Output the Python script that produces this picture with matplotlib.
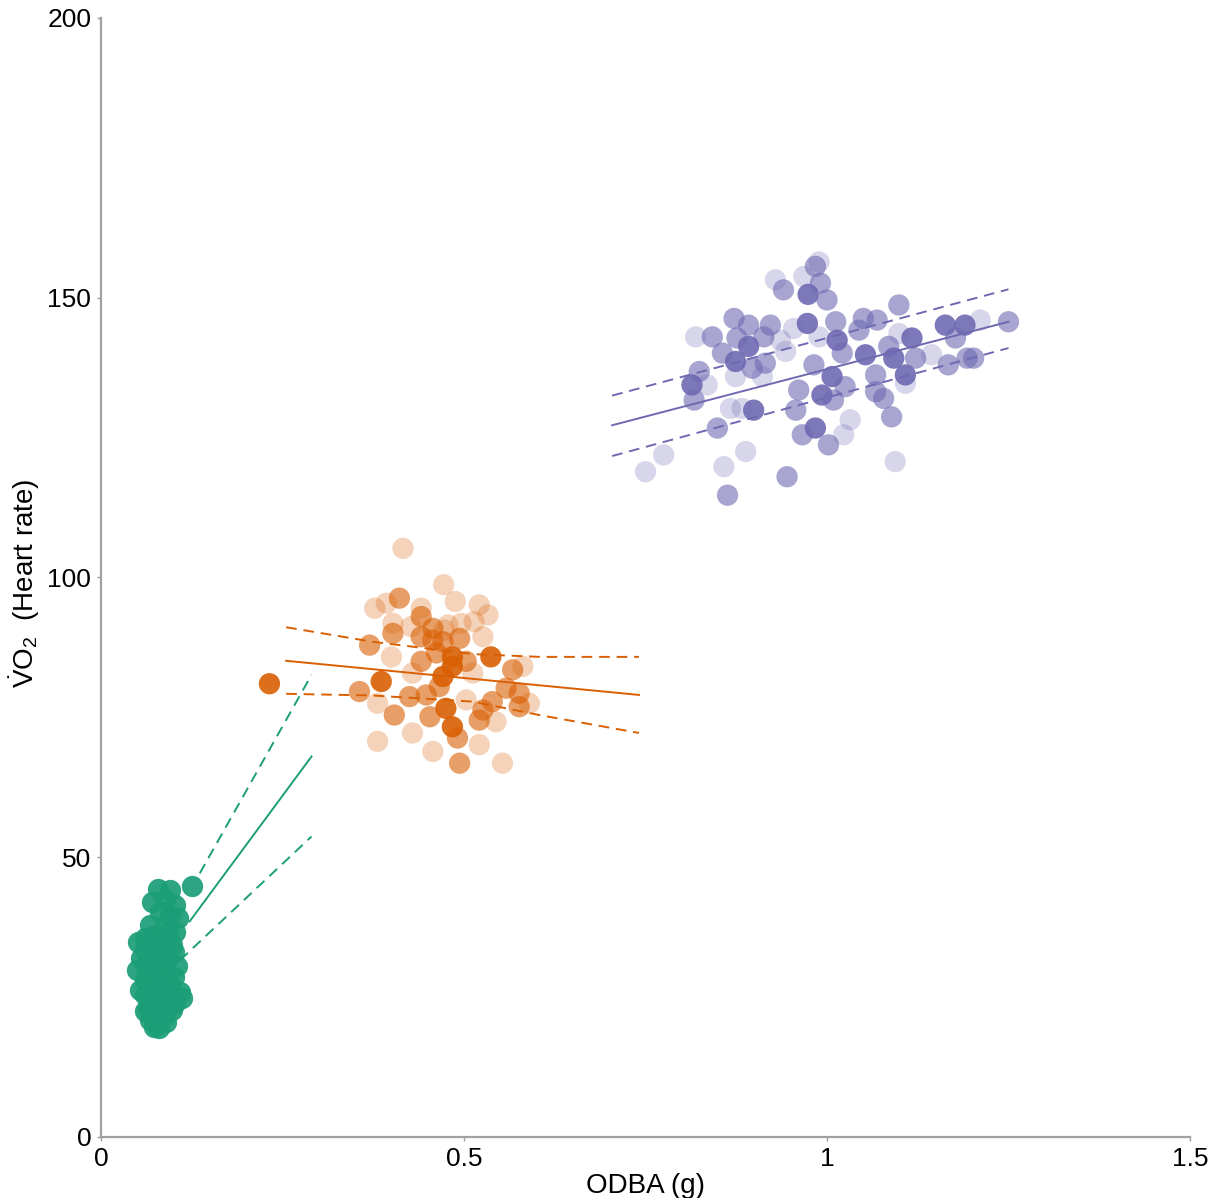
import matplotlib.pyplot as plt
from matplotlib.colors import to_rgba

# --- data ------------------------------------------------------------------
green_x = [0.078, 0.095, 0.125, 0.088, 0.102, 0.081, 0.106, 0.067, 0.088, 0.102,
           0.060, 0.081, 0.098, 0.060, 0.078, 0.092, 0.060, 0.074, 0.088, 0.060,
           0.078, 0.095, 0.109, 0.111, 0.060, 0.078, 0.095, 0.065, 0.081, 0.098,
           0.067, 0.078, 0.088, 0.051, 0.049, 0.054, 0.070, 0.095, 0.074, 0.092,
           0.070, 0.085, 0.068, 0.085, 0.100, 0.070, 0.088, 0.102, 0.072, 0.090,
           0.060, 0.080, 0.065, 0.055, 0.104, 0.100, 0.073]
green_y = [44.3, 44.1, 44.9, 42.4, 41.5, 40.2, 39.1, 37.9, 37.9, 36.6,
           35.6, 35.2, 34.3, 33.4, 32.5, 32.0, 30.7, 30.2, 29.8, 28.1,
           27.7, 27.2, 25.9, 24.8, 25.4, 24.8, 23.9, 23.1, 22.3, 22.7,
           20.9, 21.3, 21.8, 34.9, 29.8, 26.3, 42.0, 39.5, 36.0, 36.5,
           33.0, 33.5, 28.5, 27.0, 28.5, 25.5, 25.0, 24.0, 23.0, 20.5,
           22.5, 19.5, 31.5, 32.0, 30.5, 33.0, 19.6]

orange_x = [0.416, 0.472, 0.488, 0.377, 0.393, 0.411, 0.441, 0.441, 0.521, 0.533,
            0.402, 0.402, 0.427, 0.478, 0.496, 0.457, 0.471, 0.494, 0.526, 0.370,
            0.441, 0.400, 0.441, 0.462, 0.484, 0.503, 0.537, 0.581, 0.567, 0.429,
            0.471, 0.484, 0.512, 0.386, 0.356, 0.232, 0.466, 0.558, 0.576, 0.381,
            0.425, 0.448, 0.475, 0.503, 0.526, 0.539, 0.576, 0.590, 0.404, 0.453,
            0.484, 0.521, 0.544, 0.381, 0.429, 0.457, 0.491, 0.521, 0.494, 0.553,
            0.457, 0.473, 0.514]
orange_y = [105.2, 98.7, 95.7, 94.5, 95.4, 96.3, 94.5, 93.0, 95.1, 93.3,
            91.8, 90.0, 91.2, 91.5, 91.8, 88.8, 88.5, 89.1, 89.4, 87.9,
            89.4, 85.8, 85.0, 86.5, 85.8, 85.0, 85.8, 84.1, 83.5, 82.9,
            82.3, 84.1, 82.9, 81.4, 79.6, 81.0, 80.5, 80.2, 79.3, 77.5,
            78.7, 79.0, 76.6, 78.1, 76.3, 77.8, 76.9, 77.5, 75.4, 75.1,
            73.3, 74.5, 74.2, 70.7, 72.2, 68.9, 71.3, 70.1, 66.8, 66.8,
            90.9, 90.6, 92.1]
orange_shade = ["L", "L", "L", "L", "L", "M", "L", "M", "L", "L",
                "L", "M", "L", "L", "L", "M", "M", "M", "L", "M",
                "M", "L", "M", "M", "D", "M", "D", "L", "M", "L",
                "D", "D", "L", "D", "M", "D", "M", "M", "M", "L",
                "M", "M", "D", "L", "M", "M", "M", "L", "M", "M",
                "D", "M", "L", "L", "L", "L", "M", "L", "M", "L",
                "M", "L", "L"]

purple_x = [0.989, 0.984, 0.929, 0.940, 0.968, 0.991, 0.974, 1.000, 1.099, 0.872,
            0.892, 0.922, 0.973, 1.012, 1.050, 1.069, 0.819, 0.842, 0.876, 0.892,
            0.913, 0.936, 0.954, 0.989, 1.014, 1.044, 1.099, 1.117, 1.163, 1.190,
            1.211, 1.250, 1.177, 0.856, 0.874, 0.897, 0.915, 0.943, 0.982, 1.021,
            1.053, 1.085, 1.092, 1.122, 1.144, 1.167, 1.193, 1.202, 0.824, 0.814,
            0.835, 0.817, 0.874, 0.911, 0.961, 1.007, 1.025, 0.993, 1.009, 1.067,
            1.067, 1.078, 1.108, 1.108, 0.867, 0.883, 0.899, 0.957, 1.089, 0.849,
            0.966, 0.984, 1.002, 1.023, 1.032, 0.775, 0.750, 0.858, 0.888, 0.945,
            0.863, 1.094]
purple_y = [156.4, 155.6, 153.2, 151.4, 153.8, 152.6, 150.6, 149.6, 148.7, 146.3,
            145.1, 145.1, 145.4, 145.7, 146.3, 146.0, 143.0, 143.0, 142.8, 141.3,
            143.0, 142.4, 144.5, 143.0, 142.4, 144.2, 143.6, 142.8, 145.1, 145.1,
            146.0, 145.7, 142.8, 140.1, 138.6, 137.4, 138.3, 140.4, 138.0, 140.1,
            139.8, 141.3, 139.2, 139.2, 139.8, 138.0, 139.2, 139.2, 136.8, 134.4,
            134.4, 131.7, 135.9, 135.9, 133.5, 135.9, 134.1, 132.6, 131.7, 136.2,
            133.2, 132.0, 136.2, 134.7, 130.2, 130.2, 129.9, 129.9, 128.7, 126.7,
            125.5, 126.7, 123.7, 125.5, 128.2, 121.9, 118.9, 119.8, 122.5, 118.0,
            114.7, 120.7]
purple_shade = ["L", "M", "L", "M", "L", "M", "D", "M", "M", "M",
                "M", "M", "D", "M", "M", "M", "L", "M", "M", "D",
                "M", "L", "L", "L", "D", "M", "L", "D", "D", "D",
                "L", "M", "M", "M", "D", "M", "M", "L", "M", "M",
                "D", "M", "D", "M", "L", "M", "M", "M", "M", "D",
                "L", "M", "L", "L", "M", "D", "M", "D", "M", "M",
                "M", "M", "D", "L", "L", "L", "D", "M", "M", "M",
                "M", "D", "M", "L", "L", "L", "L", "L", "L", "M",
                "M", "L"]

# regression fits and confidence limits
green_fit_x = [0.122, 0.290]
green_fit_y = [38.5, 68.0]
green_hi_x = [0.136, 0.290]
green_hi_y = [47.1, 82.6]
green_lo_x = [0.109, 0.290]
green_lo_y = [31.6, 53.7]

orange_fit_x = [0.255, 0.741]
orange_fit_y = [85.1, 79.0]
orange_ci_x = [0.255, 0.374, 0.512, 0.604, 0.741]
orange_hi_y = [91.1, 88.5, 86.3, 85.8, 85.8]
orange_lo_y = [79.2, 78.9, 77.8, 75.4, 72.2]

purple_fit_x = [0.704, 1.250]
purple_fit_y = [127.2, 145.7]
purple_hi_y = [132.5, 151.5]
purple_lo_y = [121.7, 141.0]

GREEN = "#1b9e77"
ORANGE = "#d95f02"
PURPLE = "#6f69b2"
SHADE_ALPHA = {"L": 0.27, "M": 0.6, "D": 0.9}
DASH = (0, (5.5, 3.5))

plt.rcParams["font.family"] = ["Liberation Sans", "DejaVu Sans"]
plt.rcParams["mathtext.fontset"] = "custom"
plt.rcParams["mathtext.rm"] = "Liberation Sans"
plt.rcParams["mathtext.it"] = "Liberation Sans:italic"


def shaded(color, shades):
    return [to_rgba(color, SHADE_ALPHA[s]) for s in shades]


fig = plt.figure(figsize=(12.23, 11.98), dpi=100)
ax = fig.add_axes([0.0826, 0.051, 0.8904, 0.934])

ax.scatter(green_x, green_y, s=235, color=to_rgba(GREEN, 0.92), linewidths=0, zorder=2)
ax.scatter(orange_x, orange_y, s=235, color=shaded(ORANGE, orange_shade), linewidths=0, zorder=2)
ax.scatter(purple_x, purple_y, s=235, color=shaded(PURPLE, purple_shade), linewidths=0, zorder=2)

lw = 1.4
ax.plot(green_fit_x, green_fit_y, color=GREEN, lw=lw, zorder=3)
ax.plot(green_hi_x, green_hi_y, color=GREEN, lw=lw, ls=DASH, zorder=3)
ax.plot(green_lo_x, green_lo_y, color=GREEN, lw=lw, ls=DASH, zorder=3)

ax.plot(orange_fit_x, orange_fit_y, color=ORANGE, lw=lw, zorder=3)
ax.plot(orange_ci_x, orange_hi_y, color=ORANGE, lw=lw, ls=DASH, zorder=3)
ax.plot(orange_ci_x, orange_lo_y, color=ORANGE, lw=lw, ls=DASH, zorder=3)

ax.plot(purple_fit_x, purple_fit_y, color=PURPLE, lw=lw, zorder=3)
ax.plot(purple_fit_x, purple_hi_y, color=PURPLE, lw=lw, ls=DASH, zorder=3)
ax.plot(purple_fit_x, purple_lo_y, color=PURPLE, lw=lw, ls=DASH, zorder=3)

ax.set_xlim(0, 1.5)
ax.set_ylim(0, 200)
ax.set_xticks([0, 0.5, 1, 1.5])
ax.set_xticklabels(["0", "0.5", "1", "1.5"])
ax.set_yticks([0, 50, 100, 150, 200])

for side in ("top", "right"):
    ax.spines[side].set_visible(False)
for side in ("left", "bottom"):
    ax.spines[side].set_color("#a0a0a0")
    ax.spines[side].set_linewidth(1.6)
ax.tick_params(length=3, width=1, color="#a0a0a0", labelsize=19, pad=4)

ax.set_xlabel("ODBA (g)", fontsize=20, labelpad=2)
ax.set_ylabel(r"$\dot{\mathrm{V}}\mathrm{O}_{\mathrm{2}}$  (Heart rate)", fontsize=20, labelpad=6)
ax.yaxis.set_label_coords(-0.054, 0.495)

fig.savefig("out.png", dpi=100)
